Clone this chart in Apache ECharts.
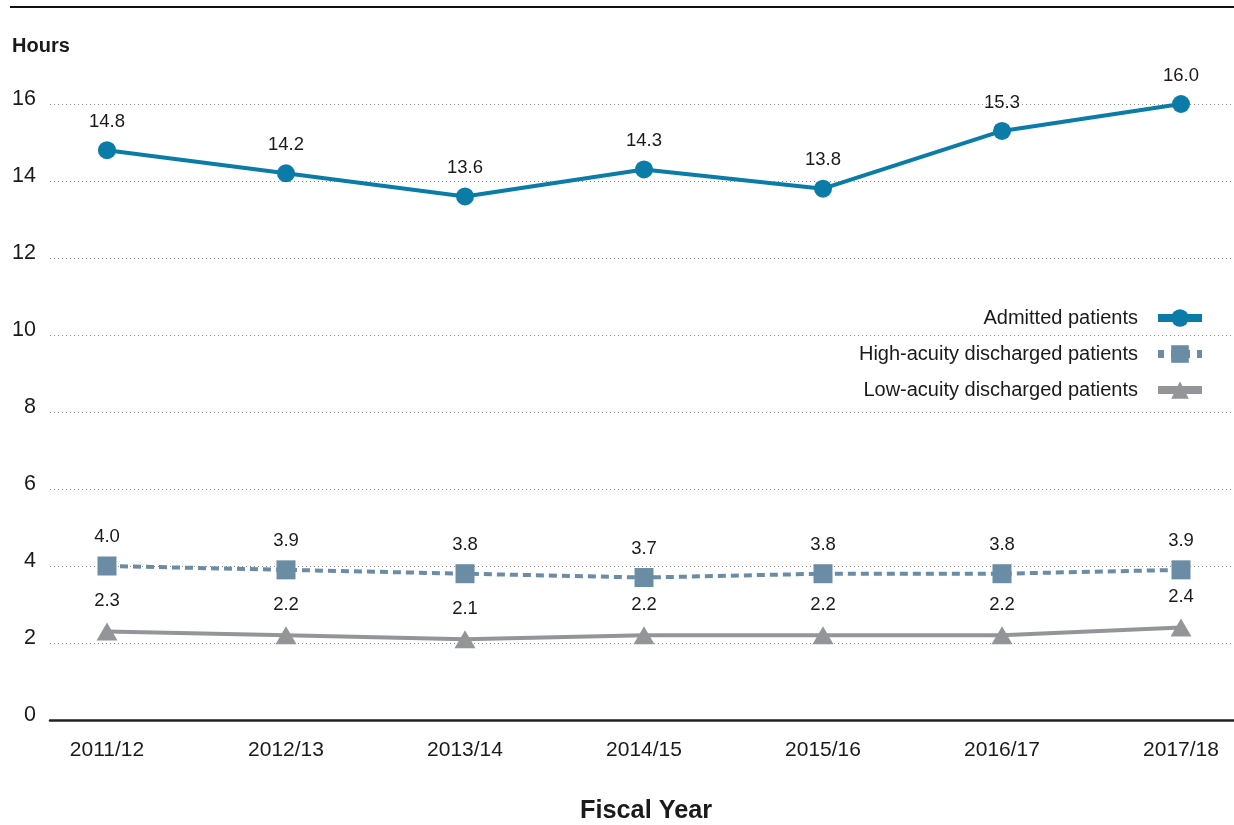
<!DOCTYPE html>
<html>
<head>
<meta charset="utf-8">
<script src="https://cdn.jsdelivr.net/npm/echarts@6/dist/echarts.min.js"></script>
<style>
  html, body { margin: 0; padding: 0; background: #fff; }
  #chart { width: 1234px; height: 825px; }
</style>
</head>
<body>
<div id="chart"></div>
<script>
// Wait times in the emergency department, hours, by fiscal year
const fiscalYears = ['2011/12', '2012/13', '2013/14', '2014/15', '2015/16', '2016/17', '2017/18'];
const admitted = [14.8, 14.2, 13.6, 14.3, 13.8, 15.3, 16.0];
const highAcuity = [4.0, 3.9, 3.8, 3.7, 3.8, 3.8, 3.9];
const lowAcuity = [2.3, 2.2, 2.1, 2.2, 2.2, 2.2, 2.4];
const seriesNames = ['Admitted patients', 'High-acuity discharged patients', 'Low-acuity discharged patients'];

const FONT = '"Liberation Sans", Arial, Helvetica, sans-serif';
const TEXT = '#1a1a1a';
const BLUE = '#0b7ba7';
const SLATE = '#6a8ca4';
const GREY = '#939598';

const chart = echarts.init(document.getElementById('chart'), null, { renderer: 'canvas' });

const labelStyle = {
  show: true,
  position: 'top',
  distance: 10,
  fontFamily: FONT,
  fontSize: 18.5,
  color: TEXT,
  formatter: p => p.value.toFixed(1)
};

chart.setOption({
  animation: false,
  backgroundColor: '#fff',
  textStyle: { fontFamily: FONT },
  title: [
    { text: 'Hours', left: 12, top: 36, padding: 0, textStyle: { fontFamily: FONT, fontSize: 20, fontWeight: 'bold', color: TEXT } },
    { text: 'Fiscal Year', left: 580, top: 799, padding: 0, textStyle: { fontFamily: FONT, fontSize: 25.3, fontWeight: 'bold', color: TEXT } }
  ],
  graphic: [
    { type: 'line', shape: { x1: 10, y1: 7, x2: 1234, y2: 7 }, style: { stroke: '#111', lineWidth: 2 } }
  ],
  legend: {
    orient: 'vertical',
    right: 23,
    top: 303,
    align: 'right',
    itemWidth: 44,
    itemHeight: 22,
    itemGap: 16,
    textStyle: { fontFamily: FONT, fontSize: 20, color: TEXT, padding: [0, 15, 0, 0] },
    data: [
      { name: seriesNames[0], lineStyle: { width: 8 } },
      { name: seriesNames[1], lineStyle: { width: 8, type: [6, 7] } },
      { name: seriesNames[2], lineStyle: { width: 8 } }
    ]
  },
  grid: [
    { left: 50, right: 0, top: 104, height: 616 },
    { left: 107, right: 53, top: 104, height: 616 }
  ],
  xAxis: [
    {
      gridIndex: 0, type: 'value', min: 0, max: 1,
      axisLine: { show: true, lineStyle: { color: '#222', width: 2.5 } },
      axisTick: { show: false }, axisLabel: { show: false }, splitLine: { show: false }
    },
    {
      gridIndex: 1, type: 'category', data: fiscalYears, boundaryGap: false,
      axisLine: { show: false }, axisTick: { show: false }, splitLine: { show: false },
      axisLabel: { margin: 20, fontFamily: FONT, fontSize: 21, color: TEXT }
    }
  ],
  yAxis: [
    {
      gridIndex: 0, type: 'value', min: 0, max: 16, interval: 2,
      axisLine: { show: false }, axisTick: { show: false },
      axisLabel: {
        margin: 14, fontFamily: FONT, fontSize: 21.5, color: TEXT,
        verticalAlign: 'bottom', lineHeight: 10
      },
      splitLine: { show: true, lineStyle: { color: '#8a8a8a', type: [1, 3], width: 1 } }
    },
    {
      gridIndex: 1, type: 'value', min: 0, max: 16, interval: 2, show: false
    }
  ],
  series: [
    {
      name: seriesNames[0], type: 'line', xAxisIndex: 1, yAxisIndex: 1,
      data: admitted,
      symbol: 'circle', symbolSize: 18,
      itemStyle: { color: BLUE },
      lineStyle: { color: BLUE, width: 4 },
      label: labelStyle
    },
    {
      name: seriesNames[1], type: 'line', xAxisIndex: 1, yAxisIndex: 1,
      data: highAcuity,
      symbol: 'rect', symbolSize: 19,
      itemStyle: { color: SLATE },
      lineStyle: { color: SLATE, width: 4, type: [8, 5] },
      label: labelStyle
    },
    {
      name: seriesNames[2], type: 'line', xAxisIndex: 1, yAxisIndex: 1,
      data: lowAcuity,
      symbol: 'triangle', symbolSize: [21, 18],
      itemStyle: { color: GREY },
      lineStyle: { color: GREY, width: 4 },
      label: Object.assign({}, labelStyle, { distance: 12 })
    }
  ]
});
</script>
</body>
</html>
